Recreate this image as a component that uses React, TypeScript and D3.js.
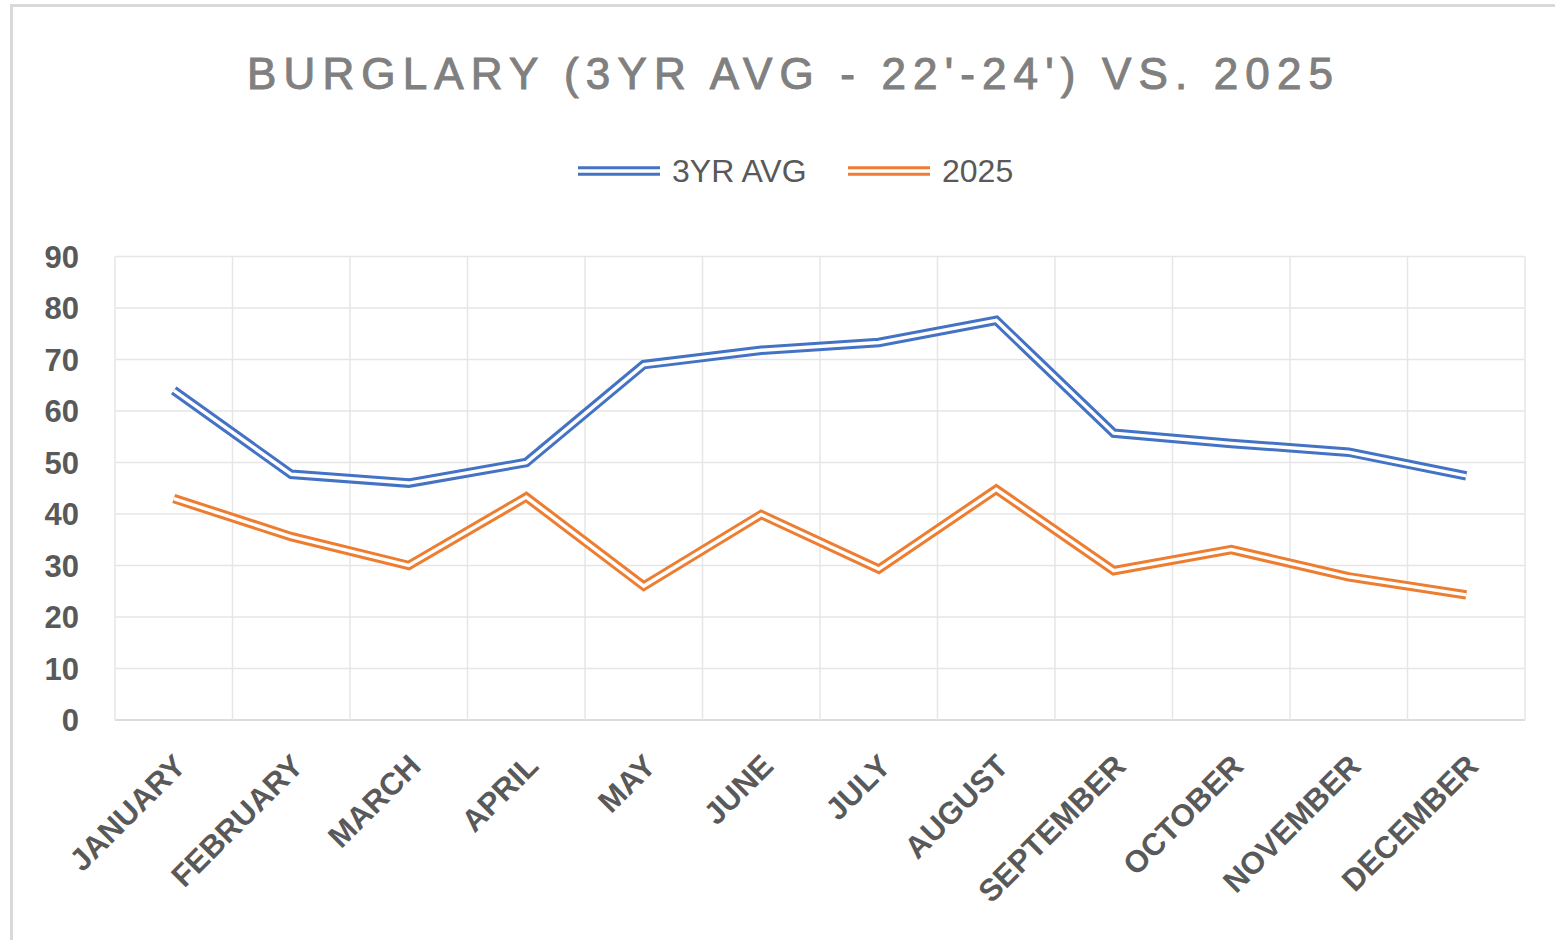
import React, { useRef, useEffect } from 'react';
import * as d3 from 'd3';

const months = [
  'JANUARY', 'FEBRUARY', 'MARCH', 'APRIL', 'MAY', 'JUNE',
  'JULY', 'AUGUST', 'SEPTEMBER', 'OCTOBER', 'NOVEMBER', 'DECEMBER',
];
const avg3yr = [64, 47.7, 46, 50, 69, 71.8, 73.3, 77.6, 55.7, 53.7, 52, 47.4];
const y2025 = [43, 35.6, 30, 43.3, 26, 39.9, 29.3, 44.8, 29, 33.1, 27.8, 24.3];
const yTicks = [0, 10, 20, 30, 40, 50, 60, 70, 80, 90];

const seriesNames = ['3YR AVG', '2025'];
const seriesColors = ['#4472c4', '#ed7d31'];

const W = 1555;
const H = 940;
const FONT = '"Liberation Sans", Arial, sans-serif';

export default function App() {
  const svgRef = useRef<SVGSVGElement>(null);

  useEffect(() => {
    const svg = d3.select(svgRef.current);
    svg.selectAll('*').remove();

    const left = 115, right = 1525, top = 256.5, bottom = 720;

    const x = d3.scaleBand<string>().domain(months).range([left, right]).padding(0);
    const y = d3.scaleLinear().domain([0, 90]).range([bottom, top]);

    svg.append('rect').attr('width', W).attr('height', H).attr('fill', '#fff');

    // outer frame (top + left only, the screenshot is cropped)
    svg.append('line')
      .attr('x1', 10).attr('x2', W).attr('y1', 5.5).attr('y2', 5.5)
      .attr('stroke', '#d9d9d9').attr('stroke-width', 3);
    svg.append('line')
      .attr('x1', 11.5).attr('x2', 11.5).attr('y1', 4).attr('y2', H)
      .attr('stroke', '#d9d9d9').attr('stroke-width', 3);

    // grid
    const grid = svg.append('g');
    grid.selectAll('line.h')
      .data(yTicks)
      .enter()
      .append('line')
      .attr('class', 'h')
      .attr('x1', left).attr('x2', right)
      .attr('y1', d => y(d)).attr('y2', d => y(d))
      .attr('stroke', d => (d === 0 ? '#d0d0d0' : '#e6e6e6'))
      .attr('stroke-width', 1.5);

    const edges = months.map(m => x(m)!).concat([right]);
    grid.selectAll('line.v')
      .data(edges)
      .enter()
      .append('line')
      .attr('class', 'v')
      .attr('x1', d => d).attr('x2', d => d)
      .attr('y1', top).attr('y2', bottom)
      .attr('stroke', '#e6e6e6')
      .attr('stroke-width', 1.5);

    // y labels
    svg.append('g')
      .selectAll('text')
      .data(yTicks)
      .enter()
      .append('text')
      .attr('x', 79)
      .attr('y', d => y(d))
      .attr('dy', '0.36em')
      .attr('text-anchor', 'end')
      .attr('font-family', FONT)
      .attr('font-weight', 'bold')
      .attr('font-size', 31)
      .attr('fill', '#595959')
      .text(d => d);

    // x labels
    svg.append('g')
      .selectAll('text')
      .data(months)
      .enter()
      .append('text')
      .attr('transform', d => `translate(${x(d)! + x.bandwidth() / 2 + 6},${bottom + 40}) rotate(-45)`)
      .attr('dy', '0.36em')
      .attr('text-anchor', 'end')
      .attr('font-family', FONT)
      .attr('font-weight', 'bold')
      .attr('font-size', 31)
      .attr('fill', '#595959')
      .text(d => d);

    // lines (compound double stroke)
    const line = d3.line<number>()
      .x((_, i) => x(months[i])! + x.bandwidth() / 2)
      .y(d => y(d));

    [avg3yr, y2025].forEach((vals, si) => {
      const g = svg.append('g');
      g.append('path')
        .attr('d', line(vals))
        .attr('fill', 'none')
        .attr('stroke', seriesColors[si])
        .attr('stroke-width', 9.5)
        .attr('stroke-linejoin', 'miter');
      g.append('path')
        .attr('d', line(vals))
        .attr('fill', 'none')
        .attr('stroke', '#fff')
        .attr('stroke-width', 3.5)
        .attr('stroke-linejoin', 'miter');
    });

    // title
    svg.append('text')
      .attr('x', 247)
      .attr('y', 89)
      .attr('textLength', 1086)
      .attr('lengthAdjust', 'spacing')
      .attr('font-family', FONT)
      .attr('font-size', 44)
      .attr('fill', '#808080')
      .attr('stroke', '#808080')
      .attr('stroke-width', 1)
      .text("BURGLARY (3YR AVG - 22'-24') VS. 2025");

    // legend
    const legendX = [578, 848];
    seriesNames.forEach((name, i) => {
      const lx = legendX[i];
      const g = svg.append('g');
      g.append('line')
        .attr('x1', lx).attr('x2', lx + 82).attr('y1', 171).attr('y2', 171)
        .attr('stroke', seriesColors[i]).attr('stroke-width', 9.5);
      g.append('line')
        .attr('x1', lx).attr('x2', lx + 82).attr('y1', 171).attr('y2', 171)
        .attr('stroke', '#fff').attr('stroke-width', 3.5);
      g.append('text')
        .attr('x', lx + 94)
        .attr('y', 182)
        .attr('font-family', FONT)
        .attr('font-size', 32)
        .attr('fill', '#595959')
        .text(name);
    });
  }, []);

  return (
    <svg
      ref={svgRef}
      width={W}
      height={H}
      style={{ position: 'absolute', left: 0, top: 0 }}
    />
  );
}
